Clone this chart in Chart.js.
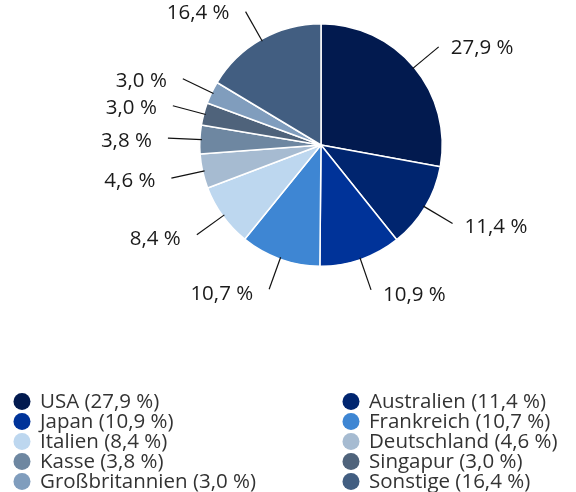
<!DOCTYPE html>
<html>
<head>
<meta charset="utf-8">
<script src="https://cdn.jsdelivr.net/npm/chart.js@4/dist/chart.umd.min.js"></script>
<style>
  html, body { margin: 0; padding: 0; background: #fff; }
  #wrap { width: 576px; height: 492px; position: relative; }
</style>
</head>
<body>
<div id="wrap"><canvas id="myPieChart"></canvas></div>
<script>
const countries = ['USA', 'Australien', 'Japan', 'Frankreich', 'Italien', 'Deutschland', 'Kasse', 'Singapur', 'Großbritannien', 'Sonstige'];
const shares = [27.9, 11.4, 10.9, 10.7, 8.4, 4.6, 3.8, 3.0, 3.0, 16.4];
const colors = ['#021a4f', '#00256f', '#003399', '#3e86d3', '#bdd7ef', '#a6bbd1', '#6e87a1', '#4f637b', '#809dbd', '#425e81'];

const FONT = '"Open Sans", sans-serif';
const fmt = v => v.toFixed(1).replace('.', ',') + ' %';

// leader lines + percentage labels outside the pie
const outsideLabels = {
    id: 'outsideLabels',
    afterDatasetsDraw(chart) {
        const ctx = chart.ctx;
        const meta = chart.getDatasetMeta(0);
        ctx.save();
        ctx.font = '20.5px ' + FONT;
        ctx.fillStyle = '#1a1a1a';
        ctx.strokeStyle = '#111';
        ctx.lineWidth = 1.2;
        ctx.textBaseline = 'middle';
        meta.data.forEach((arc, i) => {
            const p = arc.getProps(['x', 'y', 'startAngle', 'endAngle', 'outerRadius'], true);
            const a = (p.startAngle + p.endAngle) / 2;
            const cos = Math.cos(a), sin = Math.sin(a);
            const r0 = p.outerRadius - 2, r1 = p.outerRadius + 32;
            const x1 = p.x + cos * r1, y1 = p.y + sin * r1;
            ctx.beginPath();
            ctx.moveTo(p.x + cos * r0, p.y + sin * r0);
            ctx.lineTo(x1, y1);
            ctx.stroke();
            const right = cos >= 0;
            ctx.textAlign = right ? 'left' : 'right';
            ctx.fillText(fmt(shares[i]), x1 + (right ? 12 : -16), y1 + 3 + sin * 2);
        });
        ctx.restore();
    }
};

// two-column legend under the pie
const gridLegend = {
    id: 'gridLegend',
    afterDraw(chart) {
        const ctx = chart.ctx;
        ctx.save();
        ctx.font = '20.5px ' + FONT;
        ctx.textBaseline = 'middle';
        ctx.textAlign = 'left';
        countries.forEach((name, i) => {
            const col = i % 2, row = Math.floor(i / 2);
            const cx = col ? 351 : 22;
            const cy = 401.5 + row * 20;
            ctx.fillStyle = colors[i];
            ctx.beginPath();
            ctx.arc(cx, cy, 8.5, 0, Math.PI * 2);
            ctx.fill();
            ctx.fillStyle = '#333';
            ctx.fillText(name + ' (' + fmt(shares[i]) + ')', cx + 18, cy + 1);
        });
        ctx.restore();
    }
};

const ctx = document.getElementById('myPieChart').getContext('2d');
const myChart = new Chart(ctx, {
    type: 'pie',
    data: {
        labels: countries,
        datasets: [{
            data: shares,
            backgroundColor: colors,
            borderColor: '#fff',
            borderWidth: 1.5
        }]
    },
    options: {
        responsive: true,
        maintainAspectRatio: false,
        animation: false,
        layout: { padding: { left: 199, right: 133, top: 23, bottom: 225 } },
        plugins: {
            legend: { display: false },
            tooltip: { enabled: false }
        }
    },
    plugins: [outsideLabels, gridLegend]
});
</script>
</body>
</html>
